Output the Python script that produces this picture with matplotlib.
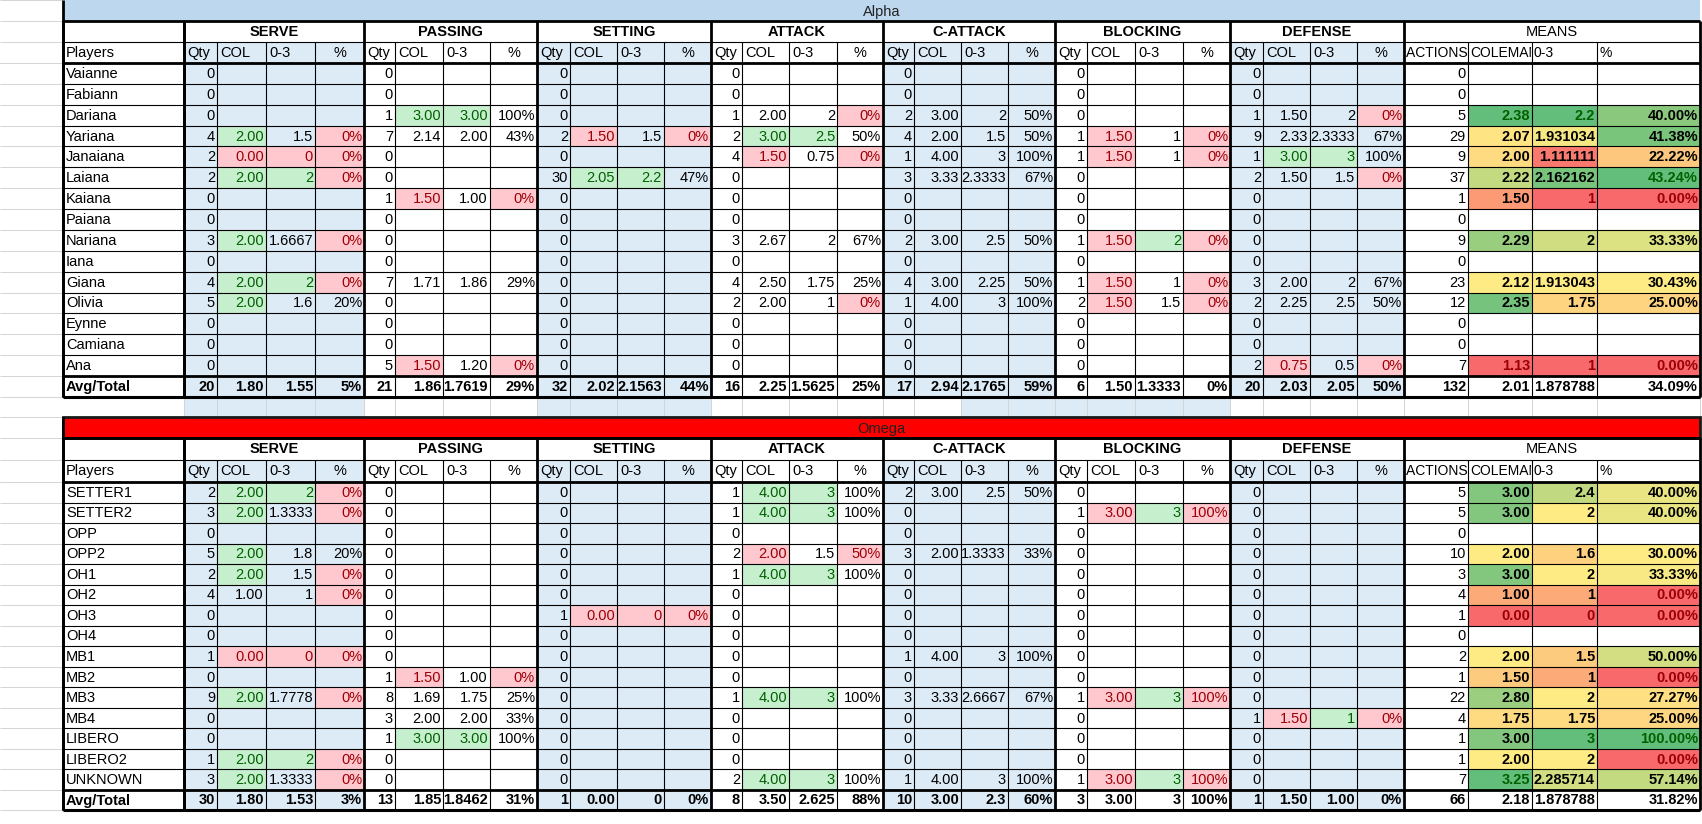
import matplotlib
matplotlib.use("Agg")
import matplotlib.pyplot as plt
from matplotlib.patches import Rectangle
import numpy as np

plt.rcParams['font.family'] = ['Liberation Sans Narrow', 'Liberation Sans', 'DejaVu Sans']

sections = ["SERVE", "PASSING", "SETTING", "ATTACK", "C-ATTACK", "BLOCKING", "DEFENSE"]
sub_labels = ["Qty", "COL", "0-3", "%"]
means_labels = ["ACTIONS (", "COLEMAN", "0-3", "%"]

alpha_players = ["Vaianne", "Fabiann", "Dariana", "Yariana", "Janaiana", "Laiana", "Kaiana", "Paiana",
                 "Nariana", "Iana", "Giana", "Olivia", "Eynne", "Camiana", "Ana", "Avg/Total"]
alpha_serve = ["0", "0", "0", "4|2.00g|1.5|0%r", "2|0.00r|0r|0%r", "2|2.00g|2g|0%r", "0", "0",
               "3|2.00g|1.6667|0%r", "0", "4|2.00g|2g|0%r", "5|2.00g|1.6|20%", "0", "0", "0",
               "20|1.80|1.55|5%"]
alpha_passing = ["0", "0", "1|3.00g|3.00g|100%", "7|2.14|2.00|43%", "0", "0", "1|1.50r|1.00|0%r", "0",
                 "0", "0", "7|1.71|1.86|29%", "0", "0", "0", "5|1.50r|1.20|0%r", "21|1.86|1.7619|29%"]
alpha_setting = ["0", "0", "0", "2|1.50r|1.5|0%r", "0", "30|2.05g|2.2g|47%", "0", "0", "0", "0", "0",
                 "0", "0", "0", "0", "32|2.02|2.1563|44%"]
alpha_attack = ["0", "0", "1|2.00|2|0%r", "2|3.00g|2.5g|50%", "4|1.50r|0.75|0%r", "0", "0", "0",
                "3|2.67|2|67%", "0", "4|2.50|1.75|25%", "2|2.00|1|0%r", "0", "0", "0", "16|2.25|1.5625|25%"]
alpha_cattack = ["0", "0", "2|3.00|2|50%", "4|2.00|1.5|50%", "1|4.00|3|100%", "3|3.33|2.3333|67%", "0",
                 "0", "2|3.00|2.5|50%", "0", "4|3.00|2.25|50%", "1|4.00|3|100%", "0", "0", "0",
                 "17|2.94|2.1765|59%"]
alpha_blocking = ["0", "0", "0", "1|1.50r|1|0%r", "1|1.50r|1|0%r", "0", "0", "0", "1|1.50r|2g|0%r", "0",
                  "1|1.50r|1|0%r", "2|1.50r|1.5|0%r", "0", "0", "0", "6|1.50|1.3333|0%"]
alpha_defense = ["0", "0", "1|1.50|2|0%r", "9|2.33|2.3333|67%", "1|3.00g|3g|100%", "2|1.50|1.5|0%r", "0",
                 "0", "0", "0", "3|2.00|2|67%", "2|2.25|2.5|50%", "0", "0", "2|0.75r|0.5|0%r",
                 "20|2.03|2.05|50%"]
alpha_means = ["0", "0", "5|2.38|2.2|40.00%", "29|2.07|1.931034|41.38%", "9|2.00|1.111111|22.22%",
               "37|2.22|2.162162|43.24%", "1|1.50|1|0.00%", "0", "9|2.29|2|33.33%", "0",
               "23|2.12|1.913043|30.43%", "12|2.35|1.75|25.00%", "0", "0", "7|1.13|1|0.00%",
               "132|2.01|1.878788|34.09%"]

omega_players = ["SETTER1", "SETTER2", "OPP", "OPP2", "OH1", "OH2", "OH3", "OH4", "MB1", "MB2", "MB3",
                 "MB4", "LIBERO", "LIBERO2", "UNKNOWN", "Avg/Total"]
omega_serve = ["2|2.00g|2g|0%r", "3|2.00g|1.3333|0%r", "0", "5|2.00g|1.8|20%", "2|2.00g|1.5|0%r",
               "4|1.00|1|0%r", "0", "0", "1|0.00r|0r|0%r", "0", "9|2.00g|1.7778|0%r", "0", "0",
               "1|2.00g|2g|0%r", "3|2.00g|1.3333|0%r", "30|1.80|1.53|3%"]
omega_passing = ["0", "0", "0", "0", "0", "0", "0", "0", "0", "1|1.50r|1.00|0%r", "8|1.69|1.75|25%",
                 "3|2.00|2.00|33%", "1|3.00g|3.00g|100%", "0", "0", "13|1.85|1.8462|31%"]
omega_setting = ["0", "0", "0", "0", "0", "0", "1|0.00r|0r|0%r", "0", "0", "0", "0", "0", "0", "0", "0",
                 "1|0.00|0|0%"]
omega_attack = ["1|4.00g|3g|100%", "1|4.00g|3g|100%", "0", "2|2.00r|1.5|50%r", "1|4.00g|3g|100%", "0",
                "0", "0", "0", "0", "1|4.00g|3g|100%", "0", "0", "0", "2|4.00g|3g|100%",
                "8|3.50|2.625|88%"]
omega_cattack = ["2|3.00|2.5|50%", "0", "0", "3|2.00|1.3333|33%", "0", "0", "0", "0", "1|4.00|3|100%",
                 "0", "3|3.33|2.6667|67%", "0", "0", "0", "1|4.00|3|100%", "10|3.00|2.3|60%"]
omega_blocking = ["0", "1|3.00r|3g|100%r", "0", "0", "0", "0", "0", "0", "0", "0", "1|3.00r|3g|100%r",
                  "0", "0", "0", "1|3.00r|3g|100%r", "3|3.00|3|100%"]
omega_defense = ["0", "0", "0", "0", "0", "0", "0", "0", "0", "0", "0", "1|1.50r|1g|0%r", "0", "0", "0",
                 "1|1.50|1.00|0%"]
omega_means = ["5|3.00|2.4|40.00%", "5|3.00|2|40.00%", "0", "10|2.00|1.6|30.00%", "3|3.00|2|33.33%",
               "4|1.00|1|0.00%", "1|0.00|0|0.00%", "0", "2|2.00|1.5|50.00%", "1|1.50|1|0.00%",
               "22|2.80|2|27.27%", "4|1.75|1.75|25.00%", "1|3.00|3|100.00%", "1|2.00|2|0.00%",
               "7|3.25|2.285714|57.14%", "66|2.18|1.878788|31.82%"]

alpha = dict(title="Alpha", players=alpha_players,
             secs=[alpha_serve, alpha_passing, alpha_setting, alpha_attack, alpha_cattack, alpha_blocking,
                   alpha_defense], means=alpha_means)
omega = dict(title="Omega", players=omega_players,
             secs=[omega_serve, omega_passing, omega_setting, omega_attack, omega_cattack, omega_blocking,
                   omega_defense], means=omega_means)

# ---------------- layout (pixels) ----------------
W, H = 1702, 824
sec_cols = [[184, 217, 266, 315, 364], [364, 395, 443, 490, 537], [537, 570, 617, 664, 711],
            [711, 742, 789, 837, 883], [883, 914, 961, 1008, 1055], [1055, 1087, 1135, 1183, 1230],
            [1230, 1263, 1310, 1357, 1404]]
means_cols = [1404, 1468, 1532, 1597, 1700]
XL, XP = 63, 184
blue_secs = {0, 2, 4, 6}
LB = "#DDEBF7"
GF, GT = "#C6EFCE", "#006100"
RF, RT = "#FFC7CE", "#9C0006"
FS = 10.5

fig = plt.figure(figsize=(W / 100, H / 100), dpi=100)
ax = fig.add_axes([0, 0, 1, 1])
ax.set_xlim(0, W)
ax.set_ylim(H, 0)
ax.axis("off")


def rect(x0, y0, x1, y1, fc):
    ax.add_patch(Rectangle((x0, y0), x1 - x0, y1 - y0, facecolor=fc, edgecolor="none", zorder=1))


def txt(x, y, s, ha="right", bold=False, color="black", size=FS, clip=None):
    t = ax.text(x, y, s, ha=ha, va="center", fontsize=size, color=color,
                fontweight="bold" if bold else "normal", zorder=5)
    if clip is not None:
        x0, y0, x1, y1 = clip
        cp = Rectangle((x0, y0), x1 - x0, y1 - y0, transform=ax.transData, fill=False, edgecolor="none")
        t.set_clip_path(cp)
        t.set_clip_on(True)
    return t


def hl(y, x0, x1, lw=0.8, c="black"):
    ax.plot([x0, x1], [y, y], color=c, lw=lw, zorder=4, solid_capstyle="butt")


def vl(x, y0, y1, lw=0.8, c="black"):
    ax.plot([x, x], [y0, y1], color=c, lw=lw, zorder=4, solid_capstyle="butt")


def mix(c1, c2, t):
    a = np.array(matplotlib.colors.to_rgb(c1))
    b = np.array(matplotlib.colors.to_rgb(c2))
    return tuple(a + (b - a) * t)


def scale_color(v, vals):
    lo, hi, mid = min(vals), max(vals), float(np.percentile(vals, 50))
    if v <= mid:
        t = 0 if mid == lo else (v - lo) / (mid - lo)
        return mix("#F8696B", "#FFEB84", t)
    t = 0 if hi == mid else (v - mid) / (hi - mid)
    return mix("#FFEB84", "#63BE7B", t)


def num(s):
    return float(s.replace("%", ""))


def draw_table(d, y_title, y_head, y_sub, y_data, y_avg, y_end, title_fc, title_border):
    n = len(d["players"]) - 1
    rh = (y_avg - y_data) / n
    rect(XL, y_title, 1700, y_head, title_fc)
    txt((XL + 1700) / 2, (y_title + y_head) / 2 + 1, d["title"], ha="center", color="#222222")
    if title_border:
        ax.add_patch(Rectangle((XL, y_title), 1700 - XL, y_head - y_title, fill=False,
                               edgecolor="#1a1a1a", lw=2, zorder=4))
    rect(XL, y_head, 1700, y_sub, "white")
    for si, name in enumerate(sections):
        c = sec_cols[si]
        txt((c[0] + c[4]) / 2, (y_head + y_sub) / 2, name, ha="center", bold=True)
    txt((means_cols[0] + means_cols[4]) / 2, (y_head + y_sub) / 2, "MEANS", ha="center")
    ym = (y_sub + y_data) / 2
    txt(XL + 3, ym, "Players", ha="left")
    for si in range(7):
        c = sec_cols[si]
        if si in blue_secs:
            rect(c[0], y_sub, c[4], y_data, LB)
        for k, lab in enumerate(sub_labels):
            if k == 3:
                txt((c[3] + c[4]) / 2, ym, lab, ha="center")
            else:
                txt(c[k] + 3, ym, lab, ha="left")
    for k, lab in enumerate(means_labels):
        txt(means_cols[k] + 2, ym, lab, ha="left", size=10,
            clip=(means_cols[k], y_sub, means_cols[k + 1] - 1, y_data))
    rows_y = [y_data + i * rh for i in range(n)] + [y_avg]
    rows_h = [rh] * n + [y_end - y_avg]
    mvals = [[], [], []]
    for s in d["means"][:-1]:
        p = s.split("|")
        if len(p) > 1:
            for k in range(3):
                mvals[k].append(num(p[k + 1]))
    for i, pl in enumerate(d["players"]):
        y0, hh = rows_y[i], rows_h[i]
        yc = y0 + hh / 2 + 0.5
        bold = i == n
        txt(XL + 3, yc, pl, ha="left", bold=bold)
        for si in range(7):
            c = sec_cols[si]
            if si in blue_secs:
                rect(c[0], y0, c[4], y0 + hh, LB)
            cells = d["secs"][si][i].split("|")
            for k, s in enumerate(cells):
                col = "black"
                if s.endswith("g"):
                    rect(c[k], y0, c[k + 1], y0 + hh, GF)
                    col, s = GT, s[:-1]
                elif s.endswith("r"):
                    rect(c[k], y0, c[k + 1], y0 + hh, RF)
                    col, s = RT, s[:-1]
                txt(c[k + 1] - 2, yc, s, bold=bold, color=col)
        cells = d["means"][i].split("|")
        for k, s in enumerate(cells):
            col = "black"
            if k > 0 and not bold:
                v = num(s)
                vals = mvals[k - 1]
                rect(means_cols[k], y0, means_cols[k + 1], y0 + hh, scale_color(v, vals))
                if v == max(vals):
                    col = GT
                elif v == min(vals):
                    col = RT
            txt(means_cols[k + 1] - 2, yc, s, bold=(k > 0 or bold), color=col)
    allx = [XL, XP] + [x for c in sec_cols for x in c] + means_cols
    for y in rows_y + [y_sub, y_data]:
        hl(y, XL, 1700)
    for x in sorted(set(allx)):
        vl(x, y_sub, y_end)
    hl(y_head, XL, 1700, 2)
    hl(y_data, XL, 1700, 2)
    hl(y_avg, XL, 1700, 2)
    hl(y_end, XL, 1700, 2.2)
    for x in [XL, XP] + [c[0] for c in sec_cols] + [1404, 1700]:
        vl(x, y_head, y_end, 2)
    vl(XL, y_title, y_end, 2)


gap_rows = [0, 21, 42, 63] + [63 + i * (313 / 15) for i in range(16)] + [397, 417, 438, 460, 482]
gap_rows += [482 + i * (308 / 15) for i in range(16)] + [810]
for y in gap_rows:
    hl(y, 0, XL, 0.7, "#D4D4D4")
for x0, x1 in [(184, 364), (537, 711), (961, 1230)]:
    rect(x0, 397, x1, 417, LB)
for x in sorted(set([XP] + [x for c in sec_cols for x in c] + means_cols)):
    vl(x, 397, 417, 0.7, "#D4D4D4")

draw_table(alpha, 0, 21, 42, 63, 376, 397, "#BDD7EE", False)
draw_table(omega, 417, 438, 460, 482, 790, 810, "#FF0000", True)

fig.savefig("out.png", dpi=100)
